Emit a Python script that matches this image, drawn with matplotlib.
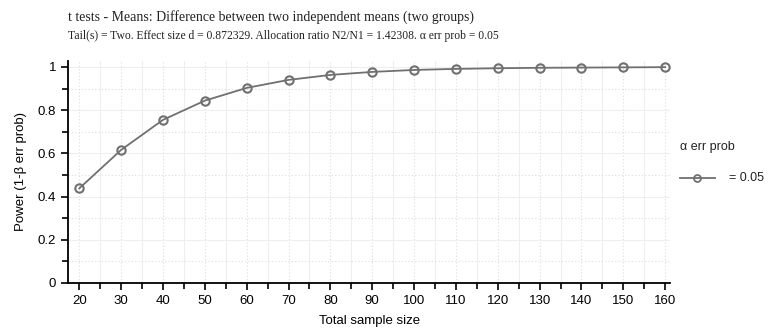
import matplotlib
matplotlib.use("Agg")
import matplotlib.pyplot as plt
from matplotlib.ticker import MultipleLocator
from matplotlib.lines import Line2D

sampleSize = [20, 30, 40, 50, 60, 70, 80, 90, 100, 110, 120, 130, 140, 150, 160]
power = [0.438, 0.616, 0.755, 0.844, 0.903, 0.940, 0.963, 0.977, 0.986,
         0.991, 0.994, 0.996, 0.997, 0.998, 0.999]

titleText = "t tests - Means: Difference between two independent means (two groups)"
subText = ("Tail(s) = Two. Effect size d = 0.872329. Allocation ratio N2/N1 = 1.42308. "
           "\u03b1 err prob = 0.05")

LINE = "#707070"

plt.rcParams['font.family'] = ['Liberation Sans', 'DejaVu Sans']

fig = plt.figure(figsize=(7.71, 3.34), dpi=100)
ax = fig.add_axes([0.0882, 0.1527, 0.781, 0.665])

ax.plot(sampleSize, power, color=LINE, lw=1.3, marker='o', ms=6,
        mfc='none', mec=LINE, mew=1.5, zorder=3)

ax.set_xlim(17.3, 161.2)
ax.set_ylim(0, 1.028)
ax.xaxis.set_major_locator(MultipleLocator(10))
ax.xaxis.set_minor_locator(MultipleLocator(5))
ax.yaxis.set_major_locator(MultipleLocator(0.2))
ax.yaxis.set_minor_locator(MultipleLocator(0.1))
ax.set_yticks([0, 0.2, 0.4, 0.6, 0.8, 1.0])
ax.set_yticklabels(["0", "0.2", "0.4", "0.6", "0.8", "1"])
ax.set_xticks(sampleSize)

# grid: vertical major dotted / minor solid, horizontal the other way round
ax.grid(axis='x', which='major', color='#dddddd', ls=(0, (1, 2)), lw=0.8)
ax.grid(axis='x', which='minor', color='#eeeeee', ls='-', lw=0.8)
ax.grid(axis='y', which='major', color='#eeeeee', ls='-', lw=0.8)
ax.grid(axis='y', which='minor', color='#dddddd', ls=(0, (1, 2)), lw=0.8)
ax.set_axisbelow(True)

for s in ['top', 'right']:
    ax.spines[s].set_visible(False)
for s in ['left', 'bottom']:
    ax.spines[s].set_linewidth(1.3)
ax.tick_params(which='both', direction='out', width=1.2, labelsize=9.5, colors='black')
ax.tick_params(which='major', length=5)
ax.tick_params(which='minor', length=4)

ax.set_xlabel("Total sample size", fontsize=9.5, labelpad=6)
ax.set_ylabel("Power (1-\u03b2 err prob)", fontsize=9.5, labelpad=8)

fig.text(0.0882, 0.937, titleText, family='Liberation Serif', fontsize=10, color='#222222')
fig.text(0.0882, 0.882, subText, family='Liberation Serif', fontsize=8.4, color='#222222')

# legend drawn by hand at the right
fig.text(0.882, 0.55, "\u03b1 err prob", fontsize=9, color='#222222')
fig.add_artist(Line2D([0.882, 0.927], [0.467, 0.467], transform=fig.transFigure,
                      color=LINE, lw=1.3))
fig.add_artist(Line2D([0.9045], [0.467], transform=fig.transFigure, marker='o', ms=5,
                      mfc='none', mec=LINE, mew=1.3, ls='none'))
fig.text(0.946, 0.467, "= 0.05", fontsize=9, color='#222222', va='center')

fig.savefig("out.png", dpi=100)
